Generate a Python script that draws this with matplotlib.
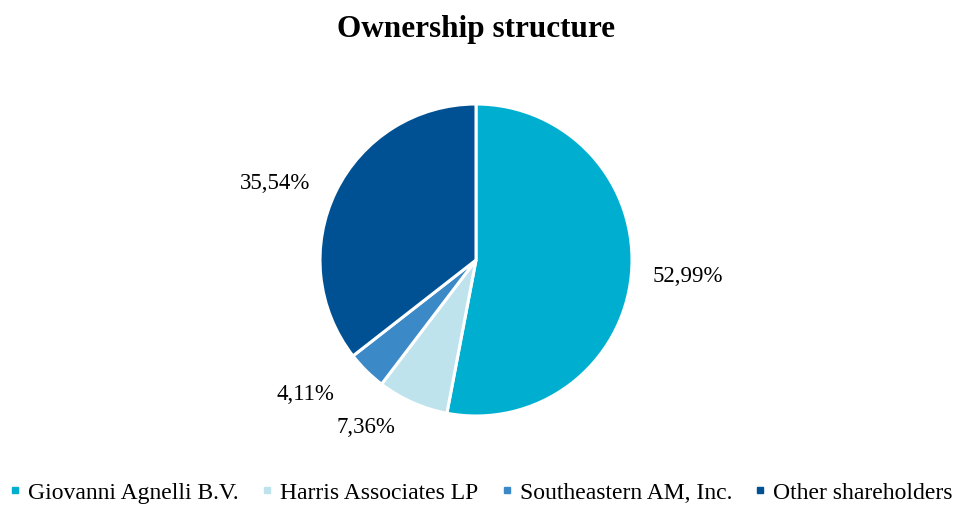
import numpy as np
import matplotlib.pyplot as plt
from matplotlib.lines import Line2D

plt.rcParams['font.family'] = ['Liberation Serif', 'DejaVu Serif']

# datos
owners = ['Giovanni Agnelli B.V.', 'Harris Associates LP', 'Southeastern AM, Inc.', 'Other shareholders']
shares = [52.99, 7.36, 4.11, 35.54]
colors = ['#00AFD0', '#BEE3EC', '#3C89C8', '#005194']
labels = ['52,99%', '7,36%', '4,11%', '35,54%']
# posicion de las etiquetas (angulo en grados, distancia relativa al radio)
lab_ang = [-4.3, -123.4, -142.0, 158.8]
lab_dist = [1.36, 1.28, 1.39, 1.38]

fig = plt.figure(figsize=(9.55, 5.06), dpi=100)
cx, cy, r = 476, 261, 156
ax = fig.add_axes([(cx - r) / 955, (506 - cy - r) / 506, 2 * r / 955, 2 * r / 506])

ax.pie(shares, colors=colors, startangle=90, counterclock=False,
       wedgeprops=dict(edgecolor='white', linewidth=2.2), radius=1)
ax.set_xlim(-1, 1)
ax.set_ylim(-1, 1)

for lab, a, d in zip(labels, lab_ang, lab_dist):
    t = np.deg2rad(a)
    ax.text(d * np.cos(t), d * np.sin(t), lab, ha='center', va='center',
            fontsize=16.5, color='black', clip_on=False)

fig.text(476 / 955, 1 - 30 / 506, 'Ownership structure', ha='center', va='center',
         fontsize=22.5, fontweight='bold')

handles = [Line2D([], [], marker='s', linestyle='', markersize=4.5,
                  markerfacecolor=c, markeredgecolor=c) for c in colors]
fig.legend(handles, owners, loc='center', bbox_to_anchor=(480 / 955, 1 - 493 / 506),
           ncol=4, frameon=False, fontsize=17, handletextpad=0.2,
           columnspacing=0.85, handlelength=0.7, borderpad=0.1)

fig.savefig('out.png', dpi=100)
